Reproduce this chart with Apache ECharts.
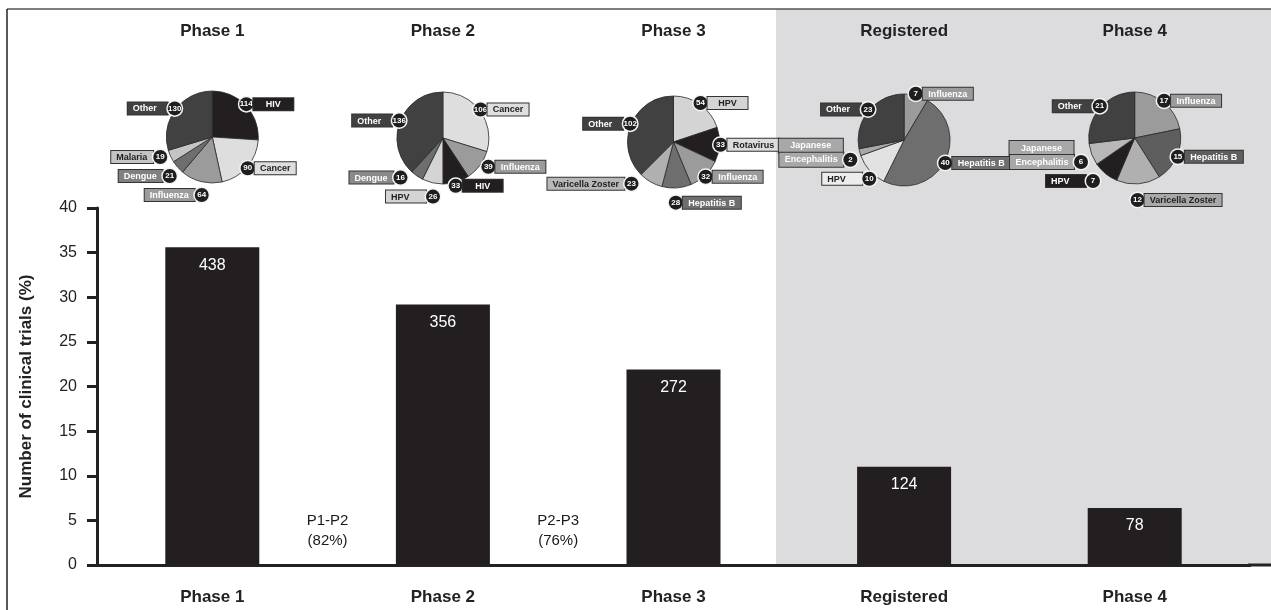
<!DOCTYPE html>
<html><head><meta charset="utf-8">
<script src="https://cdn.jsdelivr.net/npm/echarts@6/dist/echarts.min.js"></script>
<style>html,body{margin:0;padding:0;background:#fff}#c{width:1271px;height:610px}</style>
</head><body><div id="c"></div>
<script>
// ---- data ----
const categories = ['Phase 1', 'Phase 2', 'Phase 3', 'Registered', 'Phase 4'];
const barValues = [35.6, 29.2, 21.9, 11.0, 6.4];
const barLabels = ['438', '356', '272', '124', '78'];
const transitionLabels = ['P1-P2\n(82%)', 'P2-P3\n(76%)'];
const transitionX = [0.5, 1.5];
const transitionY = [3.8, 3.8];

const pie1Names = ['HIV', 'Cancer', 'Influenza', 'Dengue', 'Malaria', 'Other'];
const pie1Values = [114, 90, 64, 21, 19, 130];
const pie2Names = ['Cancer', 'Influenza', 'HIV', 'HPV', 'Dengue', 'Other'];
const pie2Values = [106, 39, 33, 26, 16, 136];
const pie3Names = ['HPV', 'Rotavirus', 'Influenza', 'Hepatitis B', 'Varicella Zoster', 'Other'];
const pie3Values = [54, 33, 32, 28, 23, 102];
const pie4Names = ['Influenza', 'Hepatitis B', 'HPV', 'Japanese Encephalitis', 'Other'];
const pie4Values = [7, 40, 10, 2, 23];
const pie5Names = ['Influenza', 'Hepatitis B', 'Varicella Zoster', 'HPV', 'Japanese Encephalitis', 'Other'];
const pie5Values = [17, 15, 12, 7, 6, 21];

// ---- styles (kept apart from data) ----
const BLK = '#231f20';
const pie1Colors = [BLK, '#dedede', '#9b9b9b', '#6e6e6e', '#c4c4c4', '#414141'];
const pie1Boxes  = [BLK, '#dedede', '#9b9b9b', '#808080', '#c4c4c4', '#414141'];
const pie1Text   = ['#fff', '#222', '#fff', '#fff', '#222', '#fff'];
const pie2Colors = ['#dedede', '#9b9b9b', BLK, '#d4d4d4', '#6e6e6e', '#414141'];
const pie2Boxes  = ['#dedede', '#9b9b9b', BLK, '#d4d4d4', '#8a8a8a', '#414141'];
const pie2Text   = ['#222', '#fff', '#fff', '#222', '#fff', '#fff'];
const pie3Colors = ['#d4d4d4', BLK, '#9b9b9b', '#6e6e6e', '#b0b0b0', '#414141'];
const pie3Boxes  = ['#d4d4d4', '#dcdcdc', '#9b9b9b', '#6e6e6e', '#b8b8b8', '#414141'];
const pie3Text   = ['#222', '#222', '#fff', '#fff', '#222', '#fff'];
const pie4Colors = ['#9b9b9b', '#6e6e6e', '#e2e2e2', '#a8a8a8', '#414141'];
const pie4Boxes  = ['#9b9b9b', '#6e6e6e', '#ececec', '#a8a8a8', '#414141'];
const pie4Text   = ['#fff', '#fff', '#222', '#fff', '#fff'];
const pie5Colors = ['#9b9b9b', '#5e5e5e', '#b0b0b0', BLK, '#b8b8b8', '#414141'];
const pie5Boxes  = ['#9b9b9b', '#5e5e5e', '#a8a8a8', BLK, '#a8a8a8', '#414141'];
const pie5Text   = ['#fff', '#fff', '#222', '#fff', '#fff', '#fff'];
const pieCenterY = [137, 138, 142, 140, 138];

const pies = [
  [pie1Names, pie1Values, pie1Colors, pie1Boxes, pie1Text],
  [pie2Names, pie2Values, pie2Colors, pie2Boxes, pie2Text],
  [pie3Names, pie3Values, pie3Colors, pie3Boxes, pie3Text],
  [pie4Names, pie4Values, pie4Colors, pie4Boxes, pie4Text],
  [pie5Names, pie5Values, pie5Colors, pie5Boxes, pie5Text]
];

const FONT = 'Liberation Sans, Arial, sans-serif';
const measureCtx = document.createElement('canvas').getContext('2d');
measureCtx.font = 'bold 9px Liberation Sans, Arial, sans-serif';
const textW = s => Math.ceil(measureCtx.measureText(s).width);

const chart = echarts.init(document.getElementById('c'));

const catLabel = { fontFamily: FONT, fontWeight: 'bold', fontSize: 17, color: '#222' };

chart.setOption({
  backgroundColor: '#fff',
  animation: false,
  grid: { left: 97, right: 21, top: 208, bottom: 45, containLabel: false },
  graphic: [
    { type: 'rect', z: -10, shape: { x: 776, y: 9, width: 500, height: 556 }, style: { fill: '#dcdcde' } },
    { type: 'line', z: 10, shape: { x1: 7, y1: 9, x2: 1271, y2: 9 }, style: { stroke: '#555', lineWidth: 1.5 } },
    { type: 'line', z: 10, shape: { x1: 7, y1: 9, x2: 7, y2: 610 }, style: { stroke: '#222', lineWidth: 1.5 } },
    { type: 'line', z: 10, shape: { x1: 1248, y1: 565, x2: 1271, y2: 565 }, style: { stroke: '#222', lineWidth: 3 } }
  ],
  xAxis: [
    { type: 'category', data: categories, position: 'bottom',
      axisLine: { lineStyle: { color: '#222', width: 3 } }, axisTick: { show: false },
      axisLabel: Object.assign({ margin: 24 }, catLabel) },
    { type: 'category', data: categories, position: 'top', offset: 168,
      axisLine: { show: false }, axisTick: { show: false },
      axisLabel: Object.assign({ margin: 0 }, catLabel) },
    { type: 'value', min: -0.5, max: 4.5, show: false }
  ],
  yAxis: {
    type: 'value', min: 0, max: 40, interval: 5,
    name: 'Number of clinical trials (%)', nameLocation: 'middle', nameGap: 62,
    nameTextStyle: { fontFamily: FONT, fontWeight: 'bold', fontSize: 17, color: '#222' },
    axisLine: { show: true, onZero: false, lineStyle: { color: '#222', width: 3 } },
    axisTick: { show: true, length: 10, lineStyle: { color: '#222', width: 3 } },
    axisLabel: { margin: 20, fontFamily: FONT, fontSize: 16, color: '#222' },
    splitLine: { show: false }
  },
  series: [
    { type: 'bar', xAxisIndex: 0, data: barValues, barWidth: 94,
      itemStyle: { color: BLK },
      label: { show: true, position: 'insideTop', distance: 10, color: '#fff',
        fontFamily: FONT, fontSize: 16,
        formatter: p => barLabels[p.dataIndex] } },
    { type: 'scatter', xAxisIndex: 2, symbolSize: 1, itemStyle: { opacity: 0 },
      data: transitionX.map((x, i) => [x, transitionY[i]]),
      label: { show: true, position: 'inside', color: '#1a1a1a', opacity: 1, fontFamily: FONT, fontSize: 15, lineHeight: 20,
        formatter: p => transitionLabels[p.dataIndex] } }
  ]
});

function pieSeries(idx) {
  const [names, values, colors, boxes, texts] = pies[idx];
  const total = values.reduce((a, b) => a + b, 0);
  const cx = chart.convertToPixel({ xAxisIndex: 0 }, categories[idx]);
  let cum = 0;
  const data = names.map((n, k) => {
    const mid = (cum + values[k] / 2) / total * 360;
    cum += values[k];
    const right = mid < 180;
    const box = { backgroundColor: boxes[k], color: texts[k], borderColor: '#333', borderWidth: 1,
      padding: [2, 5, 1, 5], fontFamily: FONT, fontWeight: 'bold', fontSize: 9, lineHeight: 11,
      width: Math.max(30, textW(n)), align: 'left' };
    const rich = {
      num: { backgroundColor: '#1e1e1e', color: '#fff', borderColor: '#f4f4f4', borderWidth: 1.5,
        borderRadius: 8, width: 14, height: 14, align: 'center', fontFamily: FONT, fontWeight: 'bold', fontSize: 8 },
      b: box,
      bj: Object.assign({}, box, { width: textW('Encephalitis') + 4, align: 'center',
        padding: [0, 3, 0, 3], lineHeight: 14, height: 14, borderWidth: 1 }),
      sp: { width: 15, height: 14 }
    };
    let fmt;
    if (n === 'Japanese Encephalitis') {
      fmt = '{bj|Japanese}{sp|}\n{bj|Encephalitis}{num|' + values[k] + '}';
    } else {
      fmt = right ? '{num|' + values[k] + '}{b|' + n + '}' : '{b|' + n + '}{num|' + values[k] + '}';
    }
    return { name: n, value: values[k], itemStyle: { color: colors[k] },
      label: { formatter: fmt, rich: rich } };
  });
  return {
    type: 'pie', center: [cx, pieCenterY[idx]], radius: 46, startAngle: 90, clockwise: true,
    avoidLabelOverlap: true, minShowLabelAngle: 0, silent: true,
    labelLayout: { hideOverlap: false },
    itemStyle: { borderColor: '#2a2a2a', borderWidth: 0.8 },
    label: { show: true, position: 'outside', distanceToLabelLine: -8 },
    labelLine: { show: false, length: 2, length2: 0 },
    data: data
  };
}

const opt = chart.getOption();
const series = opt.series.slice(0, 2);
for (let i = 0; i < pies.length; i++) series.push(pieSeries(i));
chart.setOption({ series: series });
</script>
</body></html>
